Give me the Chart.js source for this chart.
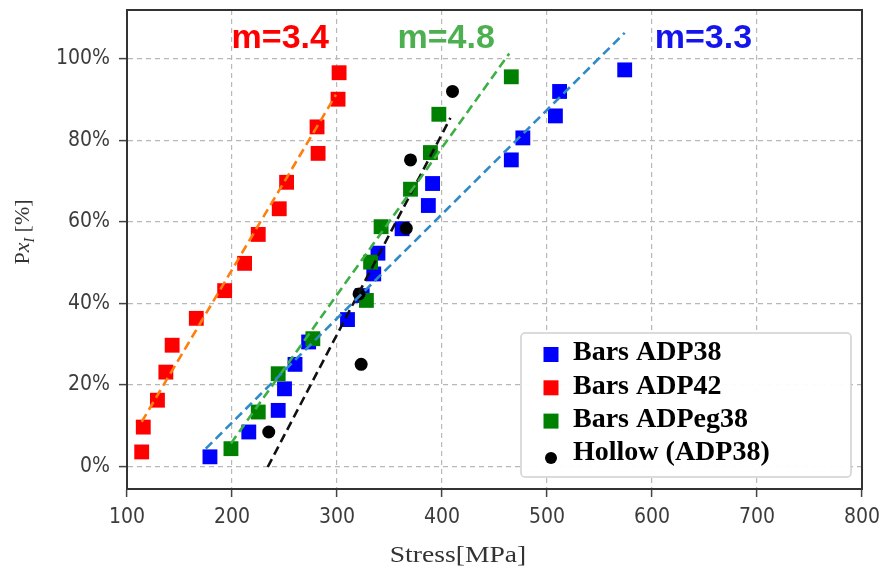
<!DOCTYPE html>
<html>
<head>
<meta charset="utf-8">
<script src="https://cdn.jsdelivr.net/npm/chart.js@4.4.1/dist/chart.umd.min.js"></script>
<style>
  body { margin: 0; background: #fff; }
  #wrap { width: 880px; height: 570px; }
</style>
</head>
<body>
<div id="wrap"><canvas id="weibull-chart" width="880" height="570"></canvas></div>
<script>
// Measured points (stress in MPa, probability in %)
const adp38X = [179, 216, 244, 250, 260, 273, 310, 324, 335, 339, 362, 387, 391, 466, 477, 508, 512, 574];
const adp38Y = [2.3, 8.4, 13.7, 19.0, 25.0, 30.5, 36.0, 41.9, 47.2, 52.3, 58.3, 64.0, 69.4, 75.2, 80.6, 86.0, 92.0, 97.3];

const adp42X = [114, 115.5, 129, 137, 143, 166, 193, 212, 225, 245, 252, 282, 281, 301, 302];
const adp42Y = [3.5, 9.6, 16.2, 23.1, 29.7, 36.3, 43.1, 49.8, 56.9, 63.2, 69.7, 76.8, 83.3, 90.1, 96.6];

const adpeg38X = [199, 225, 244, 277, 328, 332, 342, 370, 389, 397, 466];
const adpeg38Y = [4.3, 13.3, 22.7, 31.3, 40.7, 50.1, 58.8, 68.0, 77.0, 86.4, 95.6];

const hollowX = [235, 323, 321, 366, 370, 410];
const hollowY = [8.4, 25.0, 42.3, 58.4, 75.2, 92.0];

// Fitted lines (end points)
const fit42X = [114, 299];
const fit42Y = [10.9, 91.2];
const fit38X = [175, 574];
const fit38Y = [4.3, 106.4];
const fitEg38X = [199, 464];
const fitEg38Y = [5.6, 101.3];
const fitHollowX = [234, 408];
const fitHollowY = [-0.2, 85.5];

// Slope labels
const slopeText = ['m=3.4', 'm=4.8', 'm=3.3'];
const slopeX = [246, 404, 649];
const slopeY = [102.7, 102.7, 102.7];

// Axis ticks
const xTicks = [100, 200, 300, 400, 500, 600, 700, 800];
const yTicks = [0, 20, 40, 60, 80, 100];

const toPoints = (xs, ys) => xs.map((x, i) => ({ x: x, y: ys[i] }));

function pointSet(label, xs, ys, color, style, radius, order) {
    return {
        label: label,
        data: toPoints(xs, ys),
        backgroundColor: color,
        borderColor: color,
        borderWidth: 0,
        pointStyle: style,
        pointRadius: radius,
        order: order
    };
}

function fitLine(xs, ys, color) {
    return {
        label: '',
        data: toPoints(xs, ys),
        showLine: true,
        borderColor: color,
        borderWidth: 2.6,
        borderDash: [9, 5],
        pointRadius: 0,
        fill: false,
        order: 0,
        isFit: true
    };
}

const datasets = [
    pointSet('Bars ADP38', adp38X, adp38Y, '#0000ff', 'rect', 10.5, 4),
    pointSet('Bars ADP42', adp42X, adp42Y, '#ff0000', 'rect', 10.5, 3),
    pointSet('Bars ADPeg38', adpeg38X, adpeg38Y, '#008000', 'rect', 10.5, 2),
    pointSet('Hollow (ADP38)', hollowX, hollowY, '#000000', 'circle', 6.5, 1),
    fitLine(fit42X, fit42Y, '#ff7f0e'),
    fitLine(fit38X, fit38Y, '#2f8ac6'),
    fitLine(fitEg38X, fitEg38Y, '#3cb043'),
    fitLine(fitHollowX, fitHollowY, '#111111')
];

const slopeColors = ['#ff0000', '#4caf50', '#1414ee'];

// Frame, slope labels, legend and axis titles
const decorPlugin = {
    id: 'decor',
    afterDraw(chart) {
        const ctx = chart.ctx;
        const area = chart.chartArea;
        const xs = chart.scales.x;
        const ys = chart.scales.y;

        ctx.save();
        ctx.strokeStyle = '#333';
        ctx.lineWidth = 2;
        ctx.strokeRect(area.left, area.top, area.right - area.left, area.bottom - area.top);

        // slope labels
        ctx.font = 'bold 34px "Liberation Sans", Arial, sans-serif';
        ctx.textAlign = 'center';
        ctx.textBaseline = 'alphabetic';
        slopeText.forEach((t, i) => {
            ctx.fillStyle = slopeColors[i];
            ctx.fillText(t, xs.getPixelForValue(slopeX[i]), ys.getPixelForValue(slopeY[i]));
        });

        // legend box
        const lx = area.right - 341, ly = area.bottom - 156;
        const lw = 330, lh = 144;
        ctx.fillStyle = 'rgba(255,255,255,0.95)';
        ctx.strokeStyle = '#d0d0d0';
        ctx.lineWidth = 1.5;
        ctx.beginPath();
        ctx.roundRect(lx, ly, lw, lh, 4);
        ctx.fill();
        ctx.stroke();

        ctx.font = 'bold 28px "Liberation Serif", "Times New Roman", serif';
        ctx.textAlign = 'left';
        ctx.textBaseline = 'middle';
        chart.data.datasets.filter(d => !d.isFit).forEach((d, i) => {
            const cy = ly + 21 + i * 33.3;
            const cx = lx + 30;
            ctx.fillStyle = d.backgroundColor;
            if (d.pointStyle === 'circle') {
                ctx.beginPath();
                ctx.arc(cx, cy + 4, 6, 0, Math.PI * 2);
                ctx.fill();
            } else {
                ctx.fillRect(cx - 7.5, cy - 7, 15, 15);
            }
            ctx.fillStyle = '#000';
            ctx.fillText(d.label, lx + 52, cy - 1);
        });

        // x axis title (slightly stretched like the source)
        ctx.fillStyle = '#333';
        ctx.font = '23px "Liberation Serif", "Times New Roman", serif';
        ctx.textAlign = 'center';
        ctx.textBaseline = 'alphabetic';
        ctx.save();
        ctx.translate(458, 562);
        ctx.scale(1.2, 1);
        ctx.fillText('Stress[MPa]', 0, 0);
        ctx.restore();

        // y axis title: Px_I [%]
        const parts = [
            { t: 'P', f: '22px "Liberation Serif", serif', dy: 0 },
            { t: 'x', f: 'italic 22px "Liberation Serif", serif', dy: 0 },
            { t: 'I', f: 'italic 14px "Liberation Serif", serif', dy: 5 },
            { t: ' [%]', f: '22px "Liberation Serif", serif', dy: 0 }
        ];
        ctx.save();
        ctx.translate(22, 232);
        ctx.rotate(-Math.PI / 2);
        let total = 0;
        parts.forEach(p => { ctx.font = p.f; p.w = ctx.measureText(p.t).width; total += p.w; });
        let px = -total / 2;
        ctx.textAlign = 'left';
        ctx.textBaseline = 'alphabetic';
        parts.forEach(p => {
            ctx.font = p.f;
            ctx.fillText(p.t, px, 7 + p.dy);
            px += p.w;
        });
        ctx.restore();
        ctx.restore();
    }
};

const tickFont = { family: '"DejaVu Sans Condensed", "DejaVu Sans", sans-serif', size: 21 };

const ctx = document.getElementById('weibull-chart').getContext('2d');
window.weibullChart = new Chart(ctx, {
    type: 'scatter',
    data: { datasets: datasets },
    options: {
        responsive: false,
        animation: false,
        layout: { autoPadding: false, padding: { left: 0, top: 10, right: 18, bottom: 0 } },
        plugins: {
            legend: { display: false },
            tooltip: { enabled: false }
        },
        scales: {
            x: {
                type: 'linear',
                min: 100,
                max: 800,
                afterBuildTicks: s => { s.ticks = xTicks.map(v => ({ value: v })); },
                afterFit: s => { s.height = 81; s.paddingLeft = 0; s.paddingRight = 0; },
                grid: { color: '#b8b8b8', lineWidth: 1.2, tickColor: '#444', tickLength: 8, tickWidth: 1.5 },
                border: { display: true, color: '#333', width: 2, dash: [5, 4] },
                ticks: { color: '#3c3c3c', font: tickFont, padding: 8, maxRotation: 0 }
            },
            y: {
                type: 'linear',
                min: -5.6,
                max: 112,
                afterBuildTicks: s => { s.ticks = yTicks.map(v => ({ value: v })); },
                afterFit: s => { s.width = 127; s.paddingTop = 0; s.paddingBottom = 0; },
                grid: { color: '#b8b8b8', lineWidth: 1.2, tickColor: '#444', tickLength: 8, tickWidth: 1.5 },
                border: { display: true, color: '#333', width: 2, dash: [5, 4] },
                ticks: { color: '#3c3c3c', font: tickFont, padding: 9, callback: v => v + '%' }
            }
        }
    },
    plugins: [decorPlugin]
});
</script>
</body>
</html>
